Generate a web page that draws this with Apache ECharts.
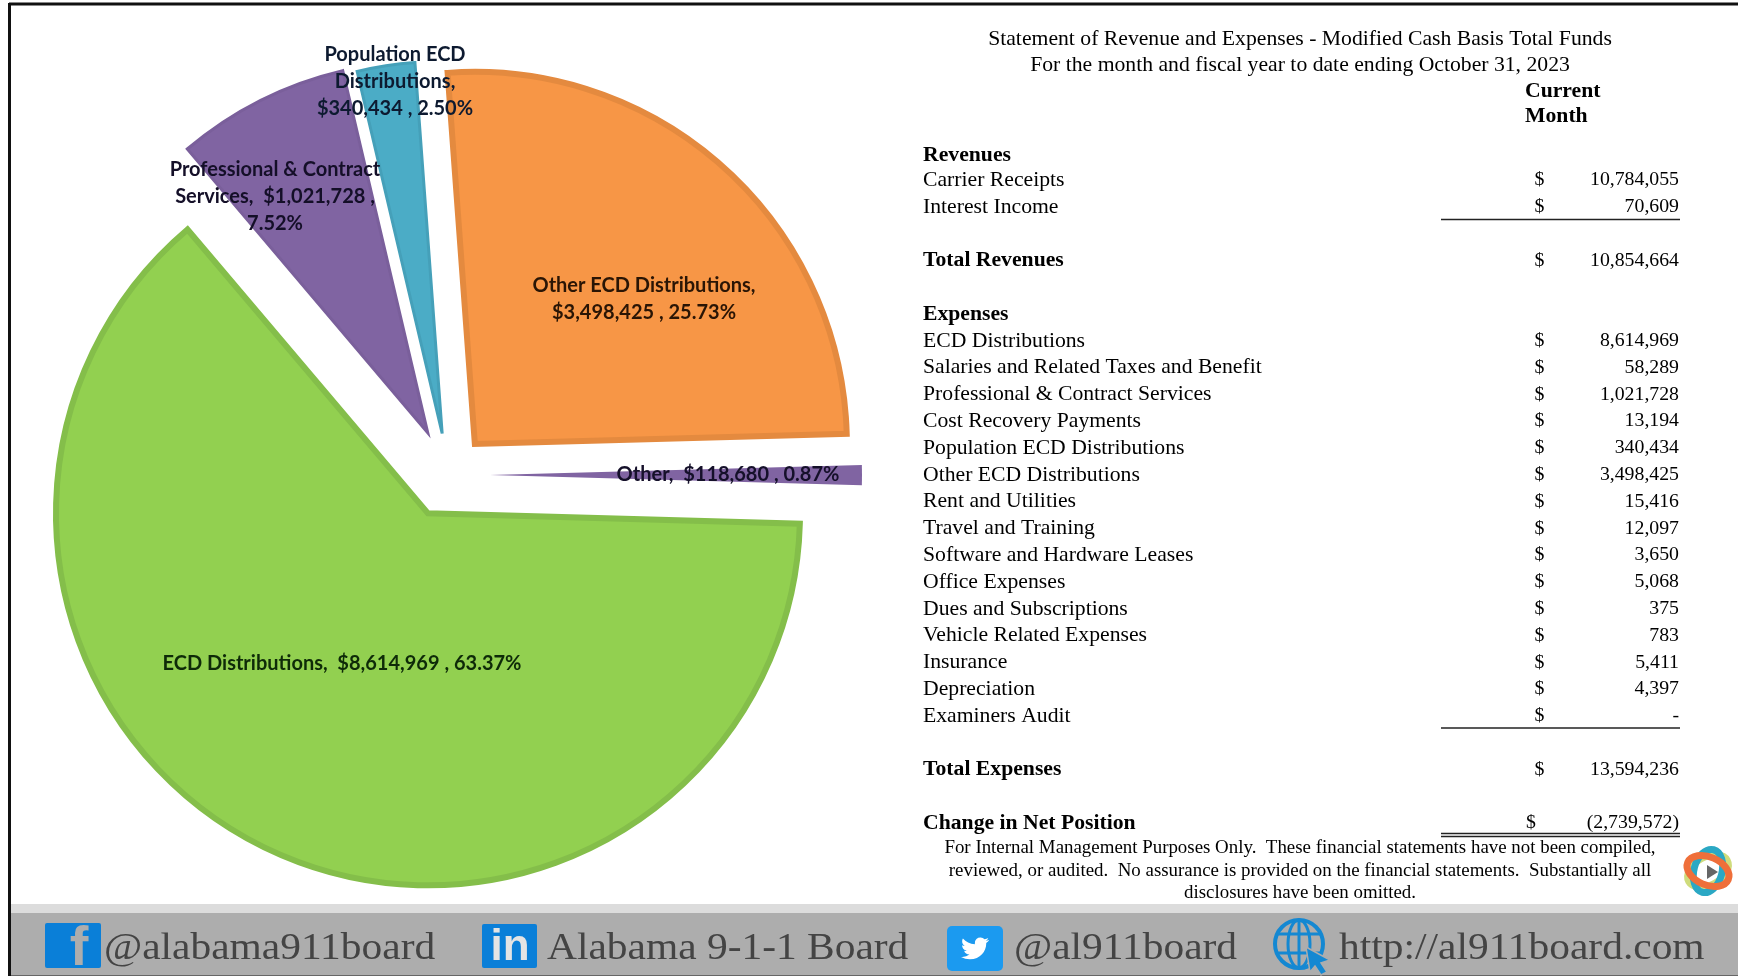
<!DOCTYPE html>
<html>
<head>
<meta charset="utf-8">
<title>Statement of Revenue and Expenses</title>
<style>
  html, body { margin: 0; padding: 0; background: #fff; }
  #main { width: 1738px; height: 976px; }
</style>
</head>
<body>
<div id="main"></div>
<script src="https://cdn.jsdelivr.net/npm/echarts@6/dist/echarts.min.js"></script>
<script>
// pie data, clockwise from the top
const sliceNames = ['Other ECD Distributions', 'Other', 'ECD Distributions', 'Professional & Contract Services', 'Population ECD Distributions']
const sliceValues = [3498425, 118680, 8614969, 1021728, 340434]
const sliceLabels = [
  'Other ECD Distributions,\n$VAL , PCT%',
  'Other,  $VAL , PCT%',
  'ECD Distributions,  $VAL , PCT%',
  'Professional & Contract\nServices,  $VAL ,\nPCT%',
  'Population ECD\nDistributions,\n$VAL , PCT%'
]

// statement table, one entry per row (empty = spacer row)
const tableLabels = [
  'Revenues', 'Carrier Receipts', 'Interest Income', '', 'Total Revenues', '', 'Expenses',
  'ECD Distributions', 'Salaries and Related Taxes and Benefit', 'Professional & Contract Services',
  'Cost Recovery Payments', 'Population ECD Distributions', 'Other ECD Distributions', 'Rent and Utilities',
  'Travel and Training', 'Software and Hardware Leases', 'Office Expenses', 'Dues and Subscriptions',
  'Vehicle Related Expenses', 'Insurance', 'Depreciation', 'Examiners Audit', '', 'Total Expenses', '',
  'Change in Net Position'
]
const tableAmounts = [
  '', '10,784,055', '70,609', '', '10,854,664', '', '',
  '8,614,969', '58,289', '1,021,728',
  '13,194', '340,434', '3,498,425', '15,416',
  '12,097', '3,650', '5,068', '375',
  '783', '5,411', '4,397', '-', '', '13,594,236', '',
  '(2,739,572)'
]
const boldRows = ['Revenues', 'Total Revenues', 'Expenses', 'Total Expenses', 'Change in Net Position']
const titleLines = ['Statement of Revenue and Expenses - Modified Cash Basis Total Funds', 'For the month and fiscal year to date ending October 31, 2023']
const columnHead = ['Current', 'Month']
const footLines = [
  'For Internal Management Purposes Only.  These financial statements have not been compiled,',
  'reviewed, or audited.  No assurance is provided on the financial statements.  Substantially all',
  'disclosures have been omitted.'
]
const footerLinks = ['@alabama911board', 'Alabama 9-1-1 Board', '@al911board', 'http://al911board.com']

// slice styling, same order as sliceNames
const sliceColors = ['#F79646', '#8064A2', '#92D050', '#8064A2', '#4BACC6']
const sliceBorders = ['#E48A3F', '#8064A2', '#84BE4A', '#7A5F9B', '#45A0B9']
const sliceBorderWidths = [6, 0, 6, 3, 3]
const sliceOffsets = [46, 48, 37, 45, 45]
const centerNudge = [[2, 2], [0, -1], [2, 4], [6, -3], [7, 2]]
const labelSpots = [[644, 299], [728, 475], [342, 664], [275, 196.5], [395, 82]]
const labelColors = ['#2a1505', '#15102a', '#0e2a08', '#140f28', '#0d1a30']

const serif = '"Liberation Serif", "Times New Roman", serif'
const TWITTER = 'M23.953 4.57a10 10 0 0 1 -2.825.775 4.958 4.958 0 0 0 2.163-2.723c-.951.555-2.005.959-3.127 1.184a4.92 4.92 0 0 0 -8.384 4.482C7.69 8.095 4.067 6.13 1.64 3.162a4.822 4.822 0 0 0 -.666 2.475c0 1.71.87 3.213 2.188 4.096a4.904 4.904 0 0 1 -2.228-.616v.06a4.923 4.923 0 0 0 3.946 4.827 4.996 4.996 0 0 1 -2.212.085 4.936 4.936 0 0 0 4.604 3.417 9.867 9.867 0 0 1 -6.102 2.105c-.39 0-.779-.023-1.17-.067a13.995 13.995 0 0 0 7.557 2.209c9.053 0 13.998-7.496 13.998-13.985 0-.21 0-.42-.015-.63A9.935 9.935 0 0 0 24 4.59z'

echarts.graphic.registerShape('twitterBird', echarts.graphic.extendPath(TWITTER, {}))

const total = sliceValues.reduce((a, b) => a + b, 0)
const pieStartAngle = 94.2

function labelFor(i) {
  const pct = (sliceValues[i] / total * 100).toFixed(2)
  return sliceLabels[i].replace('VAL', sliceValues[i].toLocaleString('en-US')).replace('PCT', pct)
}

// explode a slice by moving its own copy of the pie along the slice's middle angle
// (selected:true would lock the label position, labelLayout is ignored then)
function explodedCenter(idx) {
  const before = sliceValues.slice(0, idx).reduce((a, b) => a + b, 0)
  const mid = (pieStartAngle - (before + sliceValues[idx] / 2) / total * 360) * Math.PI / 180
  return [
    442 + centerNudge[idx][0] + Math.cos(mid) * sliceOffsets[idx],
    476 + centerNudge[idx][1] - Math.sin(mid) * sliceOffsets[idx]
  ]
}

const series = sliceNames.map((name, idx) => ({
  type: 'pie',
  silent: true,
  animation: false,
  center: explodedCenter(idx),
  radius: [0, 372],
  startAngle: pieStartAngle,
  clockwise: true,
  avoidLabelOverlap: false,
  label: { position: 'inside' },
  labelLine: { show: false },
  labelLayout: () => ({
    x: labelSpots[idx][0],
    y: labelSpots[idx][1],
    align: 'center',
    verticalAlign: 'middle'
  }),
  data: sliceNames.map((n, i) => ({
    name: n,
    value: sliceValues[i],
    itemStyle: i === idx
      ? { color: sliceColors[i], borderColor: sliceBorders[i], borderWidth: sliceBorderWidths[i], borderJoin: 'miter' }
      : { opacity: 0 },
    label: i === idx
      ? {
          show: true,
          position: 'inside',
          overflow: 'none',
          fontFamily: 'Lato, "Liberation Sans", sans-serif',
          fontWeight: 'bold',
          fontSize: 20,
          lineHeight: 27,
          color: labelColors[i],
          formatter: () => labelFor(i)
        }
      : { show: false }
  }))
}))

function text(x, y, str, opt) {
  return {
    type: 'text',
    x: x,
    y: y,
    silent: true,
    style: Object.assign({
      text: str,
      fontFamily: serif,
      fontSize: 21.7,
      fill: '#000',
      align: 'left',
      verticalAlign: 'middle'
    }, opt)
  }
}

function line(x1, x2, y, width, color) {
  return {
    type: 'line',
    silent: true,
    shape: { x1: x1, y1: y, x2: x2, y2: y },
    style: { stroke: color || '#222', lineWidth: width }
  }
}

const graphics = []

// frame and footer band
graphics.push({ type: 'rect', silent: true, shape: { x: 10, y: 904, width: 1728, height: 9 }, style: { fill: '#dcdcdc' } })
graphics.push({ type: 'rect', silent: true, shape: { x: 10, y: 913, width: 1728, height: 63 }, style: { fill: '#adadad' } })
graphics.push(line(10, 1738, 975.5, 1, '#666'))
graphics.push(line(9, 1738, 4, 3, '#111'))
graphics.push({ type: 'line', silent: true, shape: { x1: 9.5, y1: 3, x2: 9.5, y2: 976 }, style: { stroke: '#111', lineWidth: 3 } })

// statement text
titleLines.forEach((t, i) => graphics.push(text(1300, 39.5 + i * 26, t, { align: 'center' })))
columnHead.forEach((t, i) => graphics.push(text(1525, 91 + i * 25.4, t, { fontWeight: 'bold' })))

const firstRowY = 153.4
const rowStep = 26.79
tableLabels.forEach((label, i) => {
  if (!label) return
  const y = firstRowY + (i === 0 ? 2.3 : 0) + i * rowStep
  const bold = boldRows.indexOf(label) >= 0
  graphics.push(text(923, y, label, { fontWeight: bold ? 'bold' : 'normal' }))
  if (tableAmounts[i]) {
    const isChange = label === 'Change in Net Position'
    graphics.push(text(isChange ? 1531 : 1539.5, y, '$', { align: 'center', fontSize: 19.8 }))
    graphics.push(text(1679, y, tableAmounts[i], { align: 'right', fontSize: 19.8 }))
  }
})
graphics.push(line(1441, 1680, 219.5, 1.5))
graphics.push(line(1441, 1680, 728, 1.5))
graphics.push(line(1441, 1680, 833.5, 1.5))
graphics.push(line(1441, 1680, 836.5, 1.5))

footLines.forEach((t, i) => graphics.push(text(1300, 848 + i * 22.6, t, { align: 'center', fontSize: 18.9 })))

// footer links, the band is stretched sideways in the source
const footerX = [104, 547, 1014, 1339]
footerLinks.forEach((t, i) => {
  graphics.push(Object.assign(text(footerX[i], 949, t, { fontSize: 37, fill: '#444' }), { scaleX: 1.12 }))
})

// facebook
graphics.push({ type: 'rect', silent: true, shape: { x: 45, y: 923, width: 56, height: 45, r: 2 }, style: { fill: '#0a7fd8' } })
graphics.push(text(79, 950, 'f', { fontFamily: '"Liberation Sans", sans-serif', fontWeight: 'bold', fontSize: 56, fill: '#adadad', align: 'center' }))
// linkedin
graphics.push({ type: 'rect', silent: true, shape: { x: 482, y: 924, width: 55, height: 44, r: 2 }, style: { fill: '#0a7fd8' } })
graphics.push(text(510, 948, 'in', { fontFamily: '"Liberation Sans", sans-serif', fontWeight: 'bold', fontSize: 44, fill: '#e4e4e4', align: 'center' }))
// twitter
graphics.push({ type: 'rect', silent: true, shape: { x: 947, y: 926, width: 56, height: 45, r: 5 }, style: { fill: '#1b9af0' } })
graphics.push({ type: 'twitterBird', silent: true, x: 961, y: 935, scaleX: 1.17, scaleY: 1.12, style: { fill: '#fff' } })
// globe
graphics.push({ type: 'circle', silent: true, shape: { cx: 1299, cy: 944, r: 24 }, style: { fill: 'none', stroke: '#1488d2', lineWidth: 4 } })
graphics.push({ type: 'ellipse', silent: true, shape: { cx: 1299, cy: 944, rx: 11, ry: 24 }, style: { fill: 'none', stroke: '#1488d2', lineWidth: 3 } })
graphics.push({ type: 'line', silent: true, shape: { x1: 1299, y1: 920, x2: 1299, y2: 968 }, style: { stroke: '#1488d2', lineWidth: 3 } })
graphics.push(line(1277, 1321, 934, 3, '#1488d2'))
graphics.push(line(1277, 1321, 953, 3, '#1488d2'))
graphics.push({ type: 'polygon', silent: true, shape: { points: [[1306, 947], [1330, 960], [1321, 963], [1327, 972], [1321, 975], [1315, 966], [1310, 972]] }, style: { fill: '#1488d2', stroke: '#adadad', lineWidth: 1.5 } })

// logo at the corner
const rings = [['#cfdc7c', -29], ['#2ba8c4', -75], ['#ef6f3a', 23]]
rings.forEach(r => {
  graphics.push({
    type: 'ellipse',
    silent: true,
    x: 1708,
    y: 871,
    rotation: -r[1] * Math.PI / 180,
    shape: { cx: 0, cy: 0, rx: 22, ry: 14 },
    style: { fill: 'none', stroke: r[0], lineWidth: 7 }
  })
})
graphics.push({ type: 'polygon', silent: true, shape: { points: [[1707, 865], [1718, 872], [1707, 879]] }, style: { fill: '#666' } })

const chart = echarts.init(document.getElementById('main'))
chart.setOption({
  animation: false,
  backgroundColor: '#fff',
  tooltip: { show: false },
  series: series,
  graphic: graphics
})
</script>
</body>
</html>
